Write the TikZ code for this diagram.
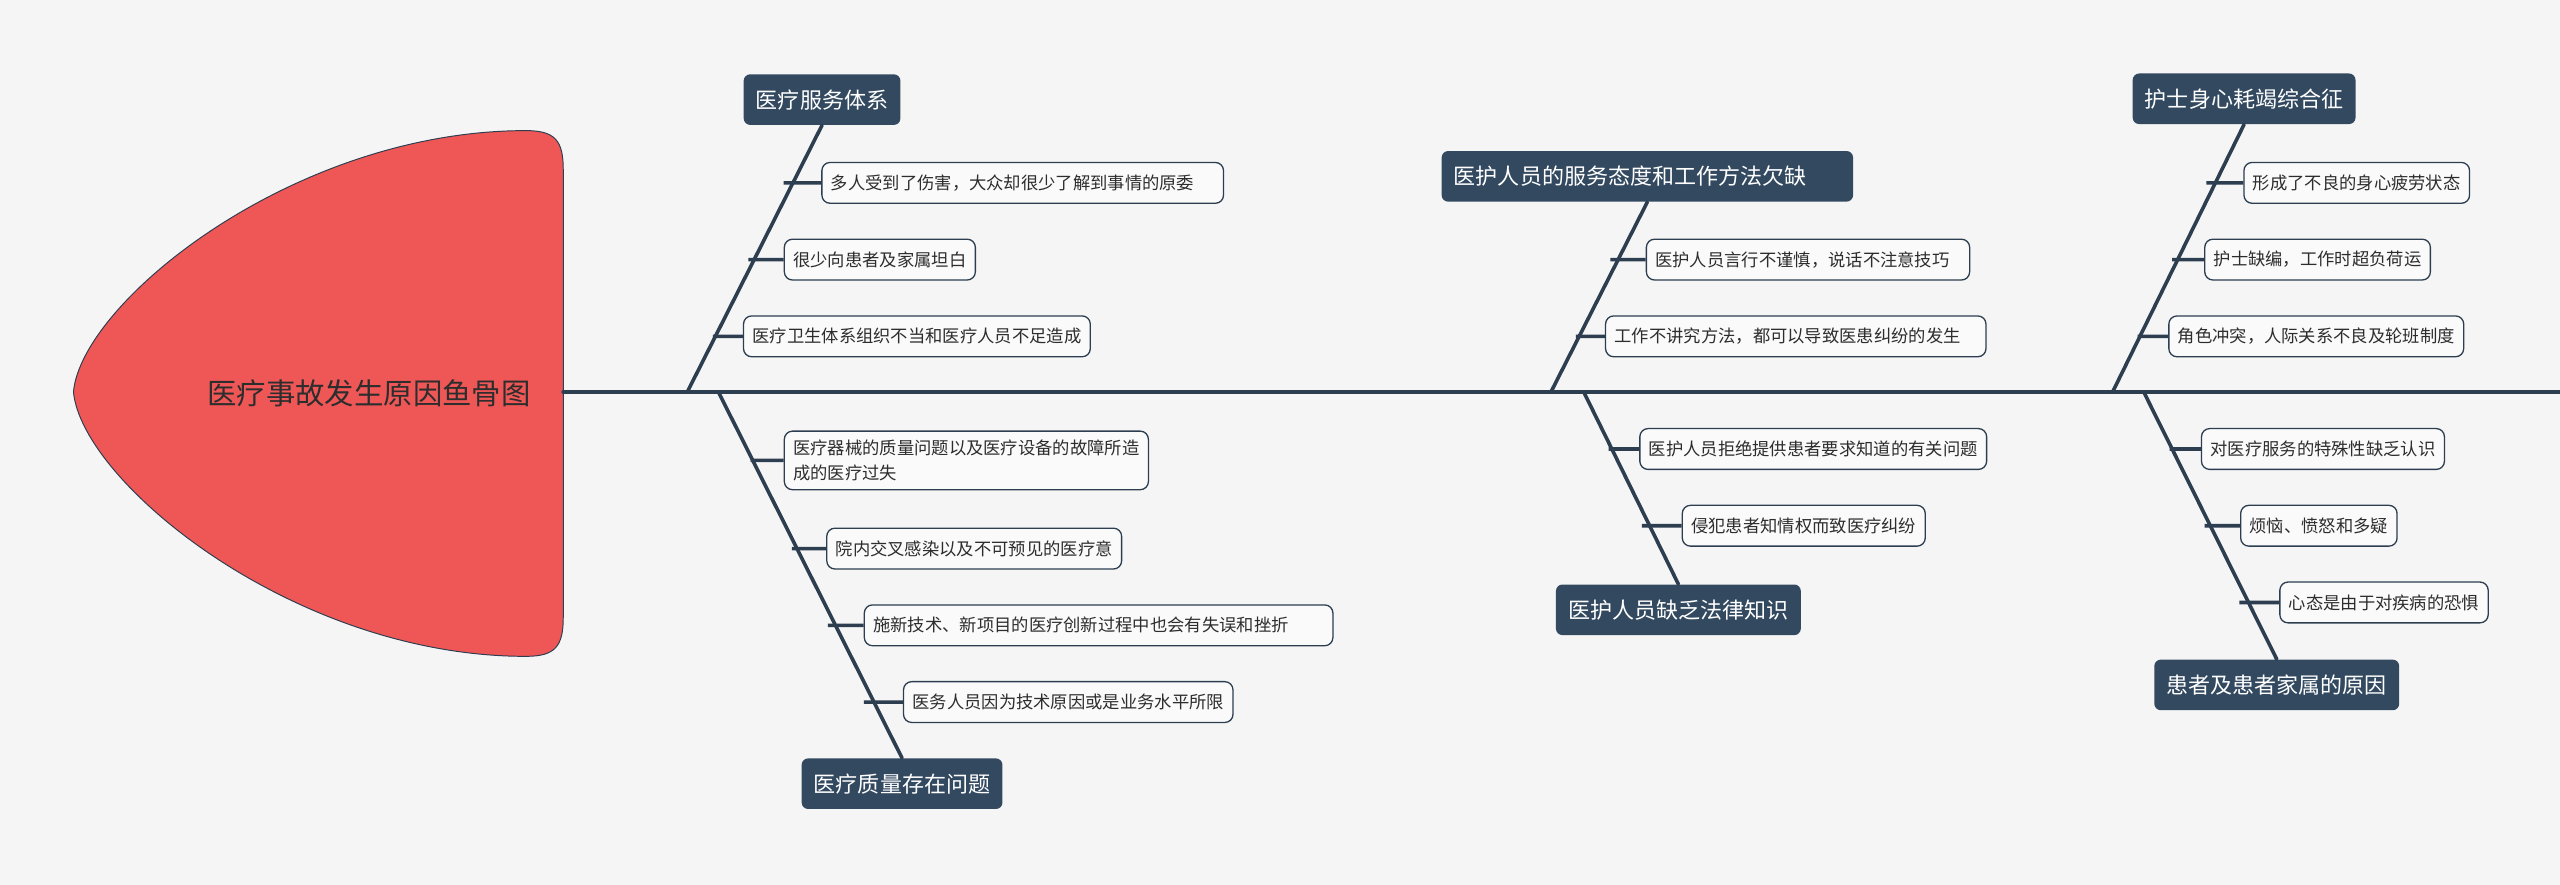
\documentclass[tikz,border=0pt]{standalone}
\usepackage{fontspec}
\newfontfamily\cjk{Noto Sans CJK SC}

\definecolor{bonecol}{RGB}{44,62,80}
\definecolor{topicfill}{RGB}{50,73,96}
\definecolor{headred}{RGB}{239,87,87}
\definecolor{itemfill}{RGB}{250,250,250}
\definecolor{itemtext}{RGB}{45,45,45}
\definecolor{bgcol}{RGB}{245,245,245}

\begin{document}
\begin{tikzpicture}[x=1pt, y=-1pt, >=latex, line cap=round, line join=round]

% --- Stijlen ---
\tikzset{
    spine/.style={
        draw=bonecol,
        line width=2.4pt
    },
    bone/.style={
        draw=bonecol,
        line width=2.2pt
    },
    tick/.style={
        draw=bonecol,
        line width=2.2pt,
        line cap=butt
    },
    head/.style={
        fill=headred,
        draw=bonecol,
        line width=0.6pt
    },
    title/.style={
        text=itemtext,
        font=\cjk\fontsize{18}{21}\selectfont,
        inner sep=0pt
    },
    topic/.style={
        fill=topicfill,
        rounded corners=4pt,
        text=white,
        font=\cjk\fontsize{13.5}{16}\selectfont,
        minimum height=31pt,
        inner xsep=7.5pt,
        inner ysep=0pt,
        align=left
    },
    item/.style={
        draw=bonecol,
        fill=itemfill,
        line width=0.8pt,
        rounded corners=5pt,
        text=itemtext,
        font=\cjk\fontsize{10.6}{15}\selectfont,
        minimum height=25pt,
        inner xsep=5.5pt,
        inner ysep=3pt,
        anchor=west,
        align=left
    }
}

% --- Achtergrond ---
\useasboundingbox (0,0) rectangle (1568,542);
\fill[bgcol] (0,0) rectangle (1568,542);

% --- Kop van de vis ---
\draw[head] (45,240)
    .. controls (50,185) and (180,80) .. (322,80)
    .. controls (340,80) and (345,86) .. (345,104)
    -- (345,378)
    .. controls (345,396) and (340,402) .. (322,402)
    .. controls (180,402) and (50,295) .. (45,240) -- cycle;
\node[title] (root) at (226,241) {医疗事故发生原因鱼骨图};

% --- Ruggengraat ---
\coordinate (headR) at (345,240);
\coordinate (tail) at (1568,240);
\draw[spine] (headR) -- (tail);

\coordinate (b1) at (421,240);
\coordinate (b2) at (440,240);
\coordinate (b3) at (950,240);
\coordinate (b4) at (970,240);
\coordinate (b5) at (1294,240);
\coordinate (b6) at (1313,240);

% --- Hoofdoorzaken ---
\node[topic] (t1) at (503.5,61) {医疗服务体系};
\node[topic] (t2) at (552.5,480) {医疗质量存在问题};
\node[topic, text width=237pt] (t3) at (1009,108) {医护人员的服务态度和工作方法欠缺};
\node[topic] (t4) at (1028,373.5) {医护人员缺乏法律知识};
\node[topic] (t5) at (1374.5,60.5) {护士身心耗竭综合征};
\node[topic] (t6) at (1394.5,419.5) {患者及患者家属的原因};

\draw[bone] (b1) -- (t1.south);
\draw[bone] (b2) -- (t2.north);
\draw[bone] (b3) -- (t3.south);
\draw[bone] (b4) -- (t4.north);
\draw[bone] (b5) -- (t5.south);
\draw[bone] (b6) -- (t6.north);

% --- Deeloorzaken ---
\node[item, text width=235pt] (i11) at (503,112) {多人受到了伤害，大众却很少了解到事情的原委};
\node[item] (i12) at (480,159) {很少向患者及家属坦白};
\node[item] (i13) at (455,206) {医疗卫生体系组织不当和医疗人员不足造成};

\node[item, inner ysep=5.5pt] (i21) at (480,282) {医疗器械的质量问题以及医疗设备的故障所造\\成的医疗过失};
\node[item] (i22) at (506,336) {院内交叉感染以及不可预见的医疗意};
\node[item, text width=276pt] (i23) at (529,383) {施新技术、新项目的医疗创新过程中也会有失误和挫折};
\node[item] (i24) at (553,430) {医务人员因为技术原因或是业务水平所限};

\node[item, text width=187pt] (i31) at (1008,159) {医护人员言行不谨慎，说话不注意技巧};
\node[item, text width=222pt] (i32) at (983,206) {工作不讲究方法，都可以导致医患纠纷的发生};

\node[item] (i41) at (1004,275) {医护人员拒绝提供患者要求知道的有关问题};
\node[item] (i42) at (1030,322) {侵犯患者知情权而致医疗纠纷};

\node[item] (i51) at (1374,112) {形成了不良的身心疲劳状态};
\node[item] (i52) at (1350,159) {护士缺编，工作时超负荷运};
\node[item] (i53) at (1328,206) {角色冲突，人际关系不良及轮班制度};

\node[item] (i61) at (1348,275) {对医疗服务的特殊性缺乏认识};
\node[item] (i62) at (1372,322) {烦恼、愤怒和多疑};
\node[item] (i63) at (1396,369) {心态是由于对疾病的恐惧};

% --- Verbindingen naar de graat ---
\foreach \it/\s/\t in {i11/b1/t1, i12/b1/t1, i13/b1/t1,
                       i21/b2/t2, i22/b2/t2, i23/b2/t2, i24/b2/t2,
                       i31/b3/t3, i32/b3/t3,
                       i41/b4/t4, i42/b4/t4,
                       i51/b5/t5, i52/b5/t5, i53/b5/t5,
                       i61/b6/t6, i62/b6/t6, i63/b6/t6}
    \draw[tick] (\it.west) -- (intersection of \s--\t.center and \it.west--\it.east);

\end{tikzpicture}
\end{document}
